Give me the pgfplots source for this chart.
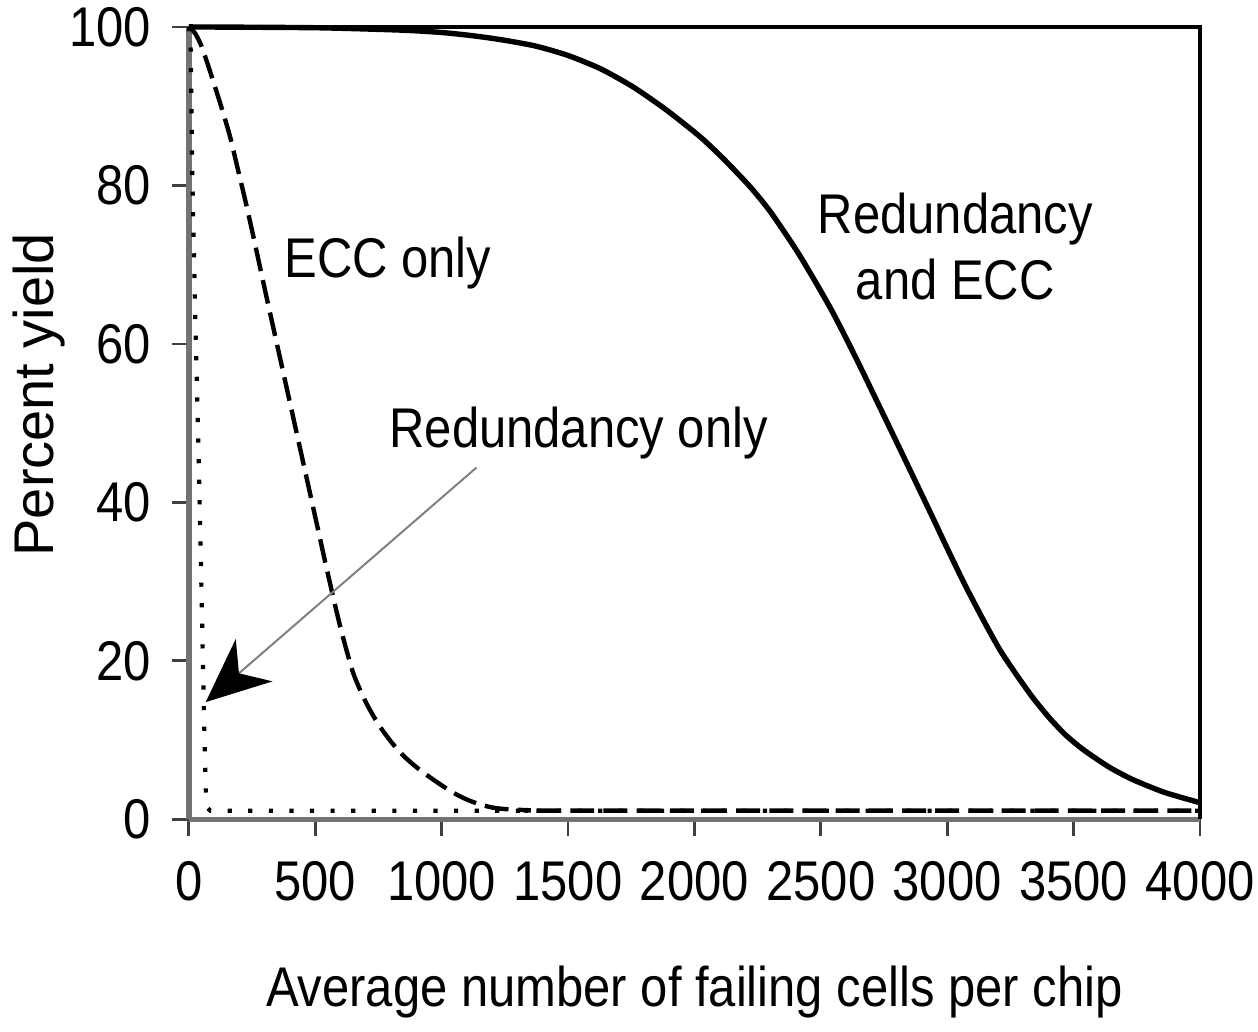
\documentclass[border=0pt]{standalone}
\usepackage{fontspec}
\setmainfont{Liberation Sans}[FakeStretch=0.875]
\newfontfamily\plainfont{Liberation Sans}
\usepackage{pgfplots}
\pgfplotsset{compat=1.18}
\usetikzlibrary{arrows.meta}
\begin{document}
\begin{tikzpicture}
\begin{axis}[
  scale only axis, width=253pt, height=198.25pt,
  xmin=0, xmax=4000, ymin=0, ymax=100,
  axis x line*=bottom, axis y line*=left,
  axis line style={draw=black!55, line width=1.4pt},
  xtick={0,500,...,4000}, ytick={0,20,...,100},
  tick align=outside, major tick length=4.25pt,
  tick style={black!75, line width=0.7pt},
  /pgf/number format/assume math mode=true,
  /pgf/number format/1000 sep={},
  tick label style={font=\fontsize{14}{16}\selectfont},
  yticklabel style={anchor=east, inner sep=0pt, xshift=-5pt},
  xticklabel style={anchor=north, inner sep=0pt, yshift=-6pt},
  xlabel={Average number of failing cells per chip},
  xlabel style={font=\fontsize{14}{16}\selectfont, at={(axis description cs:0.5,-0.2358)}, anchor=base},
  ylabel={\plainfont Percent yield},
  ylabel style={font=\fontsize{14}{16}\selectfont, at={(axis description cs:-0.1334,0.536)}, anchor=base},
  clip=false,
]
% Redundancy only (dotted)
\addplot[black, line width=1.05pt, dash pattern=on 1.05pt off 4.1pt] coordinates {
  (0,100) (8,97) (14,81) (20,72) (28,60) (38,47) (47,34) (59,15) (66,5) (70,1.6) (85,1.1) (4000,1.1)
};
% ECC only (dashed)
\addplot[black, line width=1.1pt, dash pattern=on 6pt off 2.3pt, smooth, tension=0.4] coordinates {
  (0,100) (25,99.2) (50,97.6) (79,94.9) (123,90.5) (162,86.3) (193,82.2) (225,77.9)
  (260,72.9) (300,67.0) (350,59.8) (400,52.6) (450,45.4) (500,38.2) (550,31.0)
  (600,24.2) (650,18.5) (700,14.8) (750,12.0) (800,9.8) (850,8.0) (900,6.6) (950,5.4)
  (1000,4.3) (1050,3.3) (1100,2.5) (1150,1.9) (1200,1.5) (1250,1.3) (1350,1.15) (1500,1.1) (4000,1.1)
};
% Redundancy and ECC (solid)
\addplot[black, line width=1.35pt, smooth, tension=0.4] coordinates {
  (0,100) (500,99.9) (838,99.6) (1000,99.3) (1120,98.9) (1233,98.4) (1370,97.6) (1500,96.4)
  (1630,94.7) (1759,92.4) (1890,89.5) (2024,86.1) (2120,83.2) (2221,79.8) (2300,76.7)
  (2400,72.0) (2470,68.3) (2540,64.4) (2605,60.4) (2670,56.2) (2735,51.9) (2800,47.6)
  (2866,43.2) (2935,38.6) (3000,34.2) (3070,29.6) (3142,25.2) (3210,21.3) (3275,18.2)
  (3340,15.3) (3407,12.7) (3470,10.6) (3538,8.8) (3640,6.6) (3735,5.0) (3860,3.4) (4000,2.1)
};
% top and right frame
\draw[black, line width=0.8pt] (rel axis cs:0,1) -- (rel axis cs:1,1) -- (rel axis cs:1,0);
% annotations
\node[font=\fontsize{14}{16}\selectfont] at (axis cs:788,70.2) {ECC only};
\node[font=\fontsize{14}{16.5}\selectfont, align=center] at (axis cs:3032,72.3) {Redundancy\\and ECC};
\node[font=\fontsize{14}{16}\selectfont] at (axis cs:1542,48.8) {Redundancy only};
\draw[black!50, line width=0.5pt, -{Stealth[length=16pt, width=14pt, inset=5pt, color=black]}]
  (axis cs:1138,44.4) -- (axis cs:67,14.8);
% bounding box matching the reference frame
\path (rel axis cs:-0.1858,-0.2522) rectangle (rel axis cs:1.0573,1.034);
\end{axis}
\end{tikzpicture}
\end{document}
